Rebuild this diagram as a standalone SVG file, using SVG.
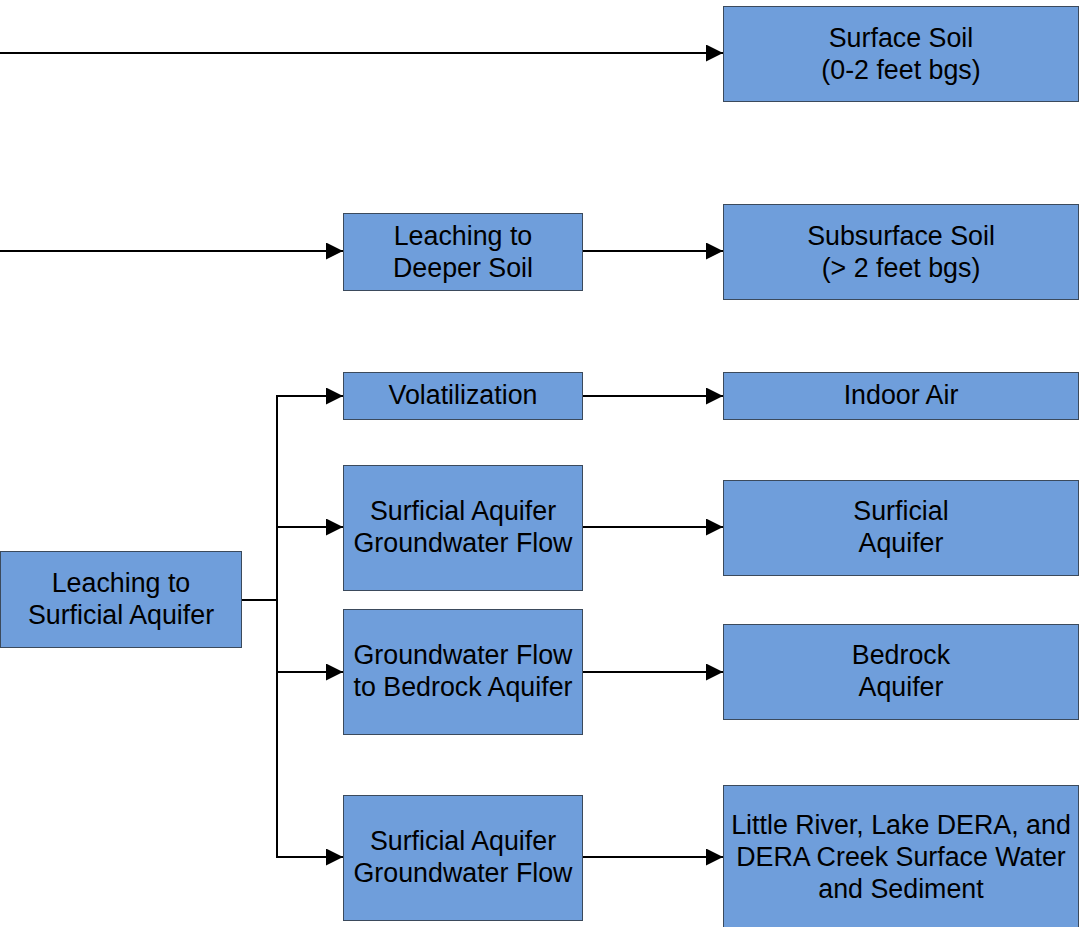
<svg xmlns="http://www.w3.org/2000/svg" width="1079" height="927" viewBox="0 0 1079 927">
<defs>
<style>
.box{fill:#6f9edb;stroke:#3b4a5c;stroke-width:1}
.t{font-family:"Liberation Sans",Arial,sans-serif;font-size:26.8px;fill:#000;text-anchor:middle}
.c{fill:none;stroke:#000;stroke-width:2}
</style>
<marker id="ah" markerWidth="17" markerHeight="17" refX="17" refY="8.5" orient="auto" markerUnits="userSpaceOnUse">
<path d="M0,0 L17,8.5 L0,17 Z" fill="#000"/>
</marker>
</defs>
<rect width="1079" height="927" fill="#fff"/>
<g id="connectors">
<path class="c" d="M0,53 H723" marker-end="url(#ah)"/>
<path class="c" d="M0,251 H343" marker-end="url(#ah)"/>
<path class="c" d="M583,251 H723" marker-end="url(#ah)"/>
<path class="c" d="M583,396 H723" marker-end="url(#ah)"/>
<path class="c" d="M583,527 H723" marker-end="url(#ah)"/>
<path class="c" d="M583,672 H723" marker-end="url(#ah)"/>
<path class="c" d="M583,857 H723" marker-end="url(#ah)"/>
<path class="c" d="M241,600 H277"/>
<path class="c" d="M277,395 V858"/>
<path class="c" d="M276,396 H343" marker-end="url(#ah)"/>
<path class="c" d="M276,527 H343" marker-end="url(#ah)"/>
<path class="c" d="M276,672 H343" marker-end="url(#ah)"/>
<path class="c" d="M276,857 H343" marker-end="url(#ah)"/>
</g>
<g id="surface-soil"><rect class="box" x="723.5" y="6.5" width="355" height="95"/><text class="t" x="901" y="47">Surface Soil</text><text class="t" x="901" y="79">(0-2 feet bgs)</text></g>
<g id="leaching-deeper"><rect class="box" x="343.5" y="213.5" width="239" height="77"/><text class="t" x="463" y="245">Leaching to</text><text class="t" x="463" y="277">Deeper Soil</text></g>
<g id="subsurface-soil"><rect class="box" x="723.5" y="204.5" width="355" height="95"/><text class="t" x="901" y="245">Subsurface Soil</text><text class="t" x="901" y="277">(&gt; 2 feet bgs)</text></g>
<g id="volatilization"><rect class="box" x="343.5" y="372.5" width="239" height="47"/><text class="t" x="463" y="404">Volatilization</text></g>
<g id="indoor-air"><rect class="box" x="723.5" y="372.5" width="355" height="47"/><text class="t" x="901" y="404">Indoor Air</text></g>
<g id="sagf1"><rect class="box" x="343.5" y="465.5" width="239" height="125"/><text class="t" x="463" y="520">Surficial Aquifer</text><text class="t" x="463" y="552">Groundwater Flow</text></g>
<g id="surficial-aquifer"><rect class="box" x="723.5" y="480.5" width="355" height="95"/><text class="t" x="901" y="520">Surficial</text><text class="t" x="901" y="552">Aquifer</text></g>
<g id="gf-bedrock"><rect class="box" x="343.5" y="609.5" width="239" height="125"/><text class="t" x="463" y="664">Groundwater Flow</text><text class="t" x="463" y="696">to Bedrock Aquifer</text></g>
<g id="bedrock-aquifer"><rect class="box" x="723.5" y="624.5" width="355" height="95"/><text class="t" x="901" y="664">Bedrock</text><text class="t" x="901" y="696">Aquifer</text></g>
<g id="leaching-surficial"><rect class="box" x="0.5" y="551.5" width="241" height="96"/><text class="t" x="121" y="592">Leaching to</text><text class="t" x="121" y="624">Surficial Aquifer</text></g>
<g id="sagf2"><rect class="box" x="343.5" y="795.5" width="239" height="125"/><text class="t" x="463" y="850">Surficial Aquifer</text><text class="t" x="463" y="882">Groundwater Flow</text></g>
<g id="little-river"><rect class="box" x="723.5" y="785.5" width="355" height="150"/><text class="t" x="901" y="834">Little River, Lake DERA, and</text><text class="t" x="901" y="866">DERA Creek Surface Water</text><text class="t" x="901" y="898">and Sediment</text></g>
</svg>
